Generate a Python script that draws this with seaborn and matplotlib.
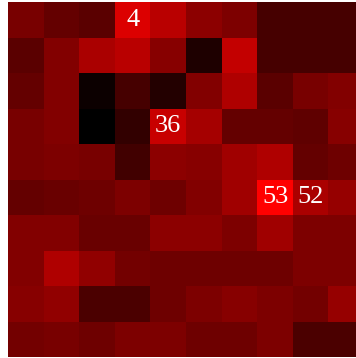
import numpy as np
import matplotlib
matplotlib.use("Agg")
import matplotlib.pyplot as plt
import seaborn as sns
from matplotlib.colors import LinearSegmentedColormap

# Cell intensities (0-255), 10 rows x 10 columns
row0 = [120, 100, 90, 220, 185, 140, 125, 70, 70, 70]
row1 = [90, 130, 170, 185, 135, 30, 195, 70, 70, 70]
row2 = [100, 130, 12, 70, 35, 130, 175, 90, 120, 130]
row3 = [120, 130, 0, 50, 200, 165, 100, 100, 95, 135]
row4 = [120, 125, 120, 65, 140, 135, 160, 175, 100, 110]
row5 = [100, 105, 110, 125, 110, 130, 160, 255, 170, 150]
row6 = [130, 130, 105, 105, 140, 140, 125, 160, 125, 125]
row7 = [130, 175, 145, 115, 110, 110, 110, 110, 125, 125]
row8 = [135, 145, 75, 75, 110, 125, 135, 125, 115, 150]
row9 = [115, 120, 110, 125, 125, 110, 110, 125, 75, 75]

# Labelled cells: (row, col, text)
labels = [(0, 3, "4"), (3, 4, "36"), (5, 7, "53"), (5, 8, "52")]

data = np.array([row0, row1, row2, row3, row4, row5, row6, row7, row8, row9])
annot = np.full(data.shape, "", dtype=object)
for r, c, t in labels:
    annot[r, c] = t

cmap = LinearSegmentedColormap.from_list("blackred", ["#000000", "#ff0000"])

fig = plt.figure(figsize=(3.56, 3.58), dpi=100)
ax = fig.add_axes([8 / 356, 1 / 358, 356 / 356, 355 / 358])
sns.heatmap(data, ax=ax, cmap=cmap, vmin=0, vmax=255, cbar=False,
            annot=annot, fmt="", xticklabels=False, yticklabels=False,
            annot_kws={"color": "white", "fontsize": 19, "family": "Liberation Serif"})
fig.savefig("out.png", dpi=100)
